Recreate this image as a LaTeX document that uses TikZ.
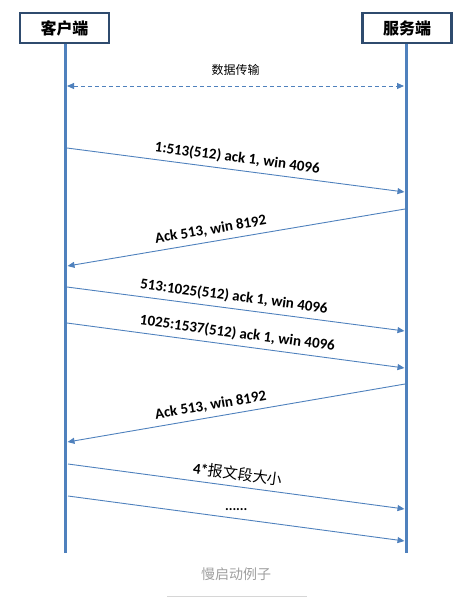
\documentclass[tikz,border=0pt]{standalone}
\usepackage{fontspec}
\setmainfont{Carlito}
\newfontfamily\cjk{Noto Sans CJK SC}
\usetikzlibrary{arrows.meta, positioning}

\definecolor{boxblue}{HTML}{2F4B6E}
\definecolor{lineblue}{HTML}{4F81BD}
\definecolor{captiongray}{HTML}{A0A0A0}
\definecolor{rulegray}{HTML}{D6D6D6}

\begin{document}
\begin{tikzpicture}[
    x=1pt, y=-1pt,
    % Define box style for both ends
    end box/.style={
        draw=boxblue, % Dark blue border
        line width=2.6pt,
        fill=white,
        minimum width=89pt,
        minimum height=30pt,
        inner sep=0pt,
        font=\cjk\bfseries\fontsize{16}{16}\selectfont
      },
    % Define lifeline style
    life line/.style={draw=lineblue, line width=3pt},
    % Define message arrow style
    msg/.style={
        draw=lineblue,
        line width=0.9pt,
        -{Triangle[length=7pt, width=6pt]}
      },
    % Define message label style
    msg label/.style={
        sloped,
        above=4pt,
        inner sep=1pt,
        font=\bfseries\fontsize{15}{15}\selectfont
      }
  ]
  \useasboundingbox (0,0) rectangle (473,611);

  % Define ends of the lifelines
  \coordinate (client end) at (65,553);
  \coordinate (server end) at (406,553);

  % Lifelines
  \draw[life line] (65,30) -- (client end);
  \draw[life line] (406,30) -- (server end);

  % Boxes on top
  \node[end box] (client) at (64.5,28) {客户端};
  \node[end box] (server) at (407,28) {服务端};

  % Data transfer: dashed two-way arrow
  \coordinate (d1) at (67,86);
  \coordinate (d2) at (404,86);
  \draw[draw=lineblue, line width=0.9pt, dash pattern=on 4pt off 3pt,
    {Triangle[length=7pt, width=6pt]}-{Triangle[length=7pt, width=6pt]}]
    (d1) -- node[above=7pt, font=\cjk\fontsize{12}{12}\selectfont] {数据传输} (d2);

  % Points on the lifelines
  \coordinate (c1) at (67,148);  \coordinate (s1) at (404.5,192);
  \coordinate (s2) at (405,209); \coordinate (c2) at (67.5,266);
  \coordinate (c3) at (67,287);  \coordinate (s3) at (404.5,331);
  \coordinate (c4) at (67,323);  \coordinate (s4) at (404.5,368);
  \coordinate (s5) at (405,384); \coordinate (c5) at (67.5,442);
  \coordinate (c6) at (68,464);  \coordinate (s6) at (404.5,509);
  \coordinate (c7) at (68,496);  \coordinate (s7) at (404.5,541);

  % Messages
  \draw[msg] (c1) -- node[msg label] {1:513(512) ack 1, win 4096} (s1);
  \draw[msg] (s2) -- node[msg label, pos=0.57] {Ack 513, win 8192} (c2);
  \draw[msg] (c3) -- node[msg label, pos=0.49] {513:1025(512) ack 1, win 4096} (s3);
  \draw[msg] (c4) -- node[msg label] {1025:1537(512) ack 1, win 4096} (s4);
  \draw[msg] (s5) -- node[msg label, pos=0.57] {Ack 513, win 8192} (c5);
  \draw[msg] (c6) -- node[msg label] {4*{\cjk\mdseries\fontsize{15}{15}\selectfont 报文段大小}} (s6);
  \draw[msg] (c7) -- node[above=6pt, inner sep=1pt, font=\bfseries\fontsize{14}{14}\selectfont] {......} (s7);

  % Caption with a thin rule below
  \node[font=\cjk\fontsize{14}{14}\selectfont, text=captiongray] (caption) at (236,574) {慢启动例子};
  \coordinate (rule left) at (167,596);
  \coordinate (rule right) at (307,596);
  \draw[rulegray, line width=0.8pt] (rule left) -- (rule right);

\end{tikzpicture}
\end{document}
